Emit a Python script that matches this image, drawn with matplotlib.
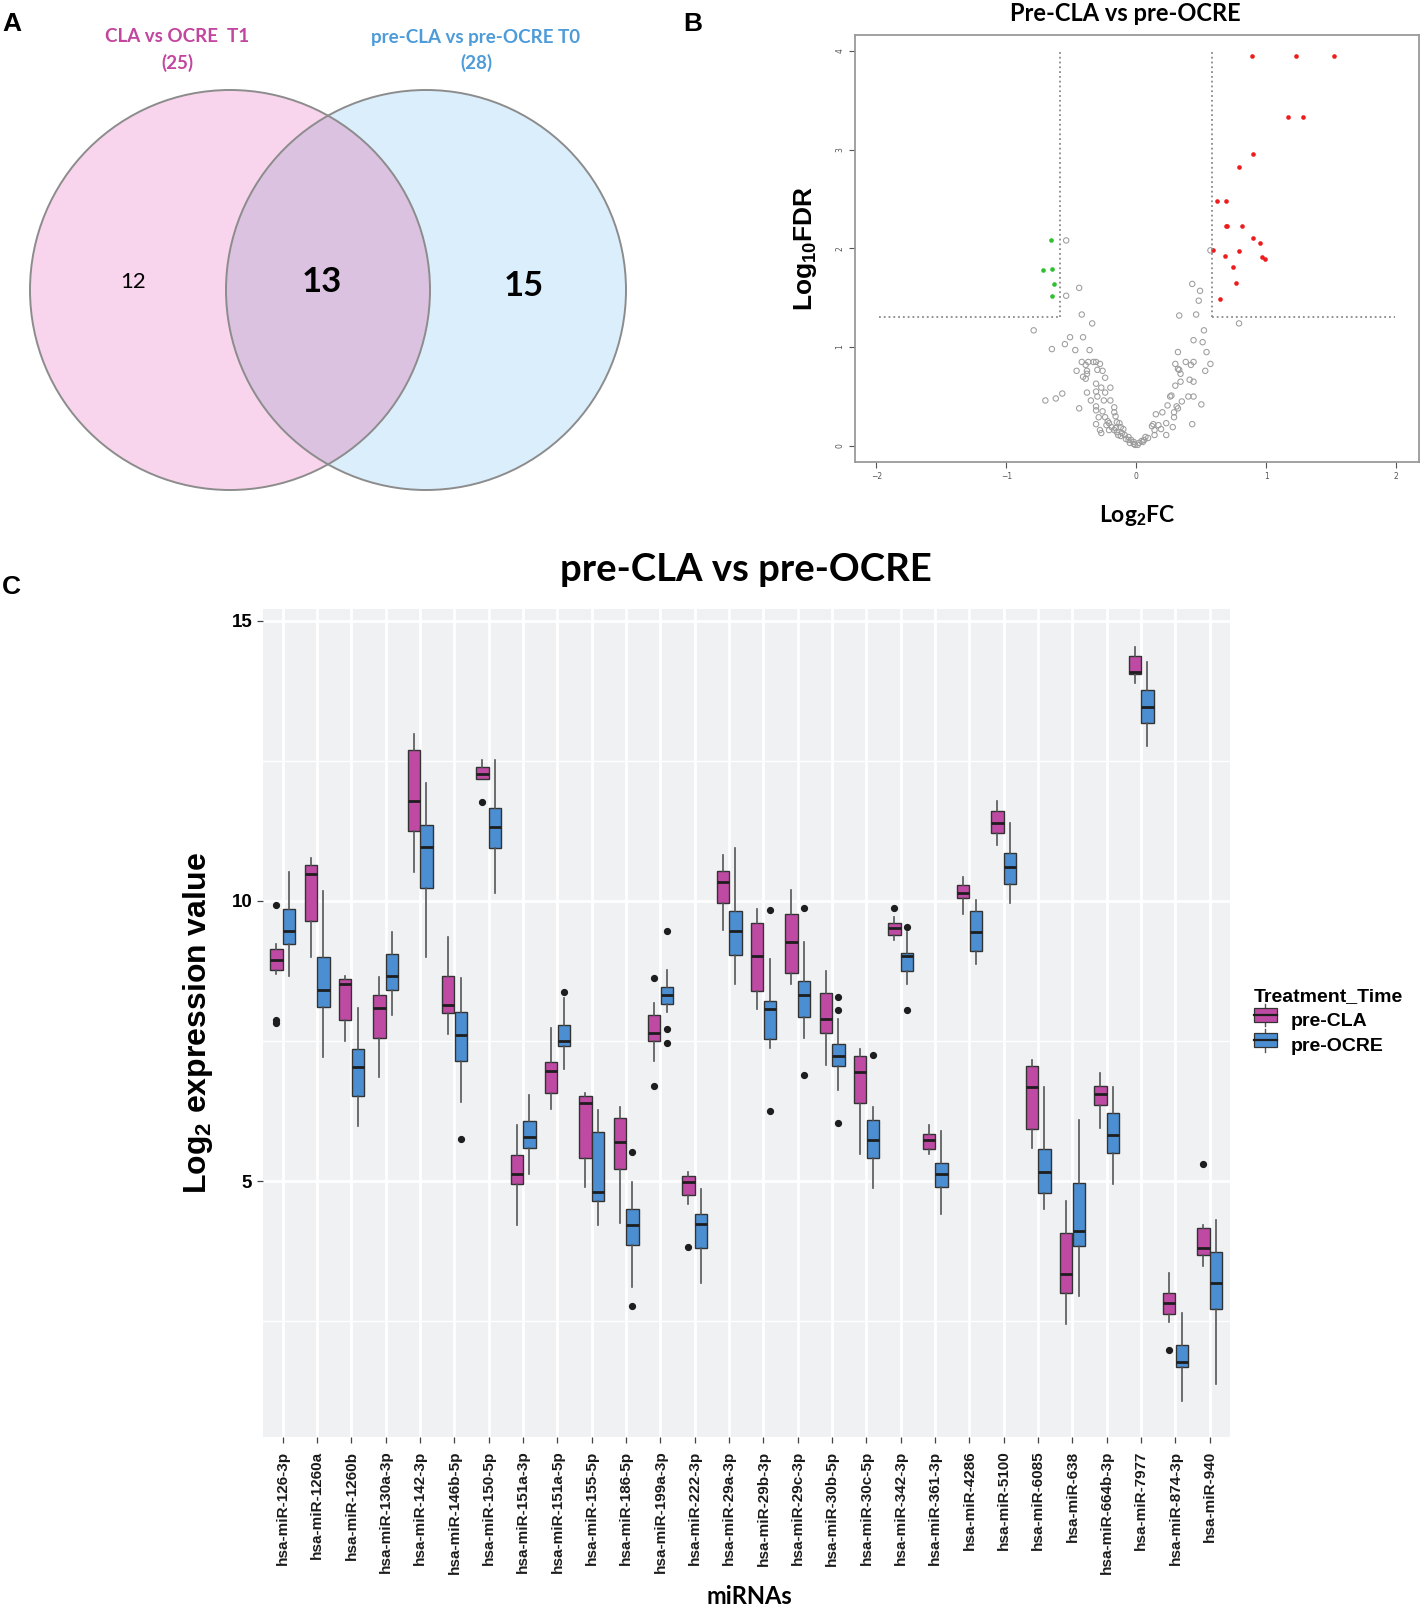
import matplotlib
matplotlib.use('Agg')
import matplotlib.pyplot as plt
from matplotlib.patches import Circle, Rectangle, Patch
from matplotlib.lines import Line2D
from matplotlib.legend_handler import HandlerBase

plt.rcParams['mathtext.fontset'] = 'custom'
plt.rcParams['mathtext.rm'] = 'Liberation Sans:bold'
plt.rcParams['mathtext.default'] = 'rm'

# ---------------- data ----------------
# Venn (panel A)
set_names = ['CLA vs OCRE  T1', 'pre-CLA vs pre-OCRE T0']
set_totals = [25, 28]
venn_counts = [12, 13, 15]   # only left, shared, only right

# volcano (panel B)
up_x = [0.89, 1.23, 1.52, 1.17, 1.28, 0.90, 0.79, 0.62, 0.69, 0.69, 0.70, 0.81,
        0.90, 0.95, 0.59, 0.68, 0.79, 0.97, 0.99, 0.74, 0.77, 0.64]
up_y = [3.95, 3.95, 3.95, 3.33, 3.33, 2.96, 2.82, 2.48, 2.48, 2.23, 2.23, 2.23,
        2.10, 2.05, 1.98, 1.92, 1.97, 1.91, 1.89, 1.81, 1.65, 1.49]
down_x = [-0.66, -0.72, -0.65, -0.63, -0.65]
down_y = [2.08, 1.78, 1.79, 1.64, 1.52]
ns_x = [-0.54, 0.57, -0.44, -0.54, 0.43, 0.49, 0.48, 0.46, 0.33, -0.42, -0.34, 0.79,
        -0.79, 0.52, -0.51, -0.41, 0.44, 0.51, -0.55, -0.65, -0.47, -0.36, 0.32, -0.42,
        -0.37, -0.33, -0.31, -0.28, -0.39, 0.30, 0.38, 0.44, 0.42, 0.57, 0.32, -0.46,
        -0.38, -0.30, -0.26, 0.33, 0.34, 0.53, -0.38, -0.41, -0.24, -0.39, 0.44, -0.31,
        -0.27, -0.20, 0.30, -0.31, -0.38, -0.24, -0.30, 0.26, 0.40, 0.44, -0.57, -0.62,
        -0.70, -0.35, -0.25, -0.20, 0.35, 0.50, -0.44, -0.31, -0.17, 0.24, 0.31, 0.20,
        0.32, -0.26, -0.17, 0.15, 0.29, -0.29, -0.24, -0.16, 0.29, -0.22, -0.31, -0.21,
        -0.15, -0.13, 0.13, 0.17, 0.23, 0.28, 0.43, -0.19, -0.16, -0.12, -0.10, -0.28,
        -0.27, -0.21, -0.15, -0.11, -0.09, -0.06, -0.04, -0.02, -0.01, 0.01, 0.02, 0.04,
        0.06, 0.09, 0.14, 0.12, 0.19, 0.23, 0.14, -0.06, -0.08, -0.12, -0.14, -0.05,
        -0.02, 0.05, 0.07, 0.41, 0.54, 0.34, 0.27, -0.31, -0.23, -0.17]
ns_y = [2.08, 1.98, 1.60, 1.52, 1.64, 1.57, 1.47, 1.33, 1.32, 1.33, 1.24, 1.24,
        1.17, 1.17, 1.10, 1.10, 1.07, 1.05, 1.03, 0.98, 0.97, 0.97, 0.95, 0.85,
        0.85, 0.85, 0.85, 0.83, 0.82, 0.83, 0.85, 0.85, 0.82, 0.83, 0.78, 0.76,
        0.76, 0.77, 0.76, 0.77, 0.73, 0.76, 0.73, 0.70, 0.69, 0.68, 0.65, 0.63,
        0.59, 0.59, 0.61, 0.55, 0.54, 0.54, 0.50, 0.50, 0.50, 0.50, 0.53, 0.48,
        0.46, 0.46, 0.46, 0.46, 0.45, 0.42, 0.38, 0.40, 0.39, 0.41, 0.40, 0.34,
        0.38, 0.35, 0.34, 0.32, 0.34, 0.29, 0.29, 0.30, 0.29, 0.25, 0.22, 0.23,
        0.24, 0.23, 0.22, 0.21, 0.23, 0.19, 0.22, 0.19, 0.18, 0.19, 0.17, 0.16,
        0.13, 0.16, 0.14, 0.13, 0.11, 0.09, 0.06, 0.04, 0.01, 0.01, 0.03, 0.05,
        0.06, 0.08, 0.11, 0.20, 0.17, 0.11, 0.16, 0.06, 0.07, 0.10, 0.11, 0.03,
        0.02, 0.04, 0.09, 0.67, 0.95, 0.65, 0.51, 0.36, 0.21, 0.16]
fc_cut = 0.585
fdr_cut = 1.3

# boxplots (panel C)
mirnas = ['hsa-miR-126-3p', 'hsa-miR-1260a', 'hsa-miR-1260b', 'hsa-miR-130a-3p',
          'hsa-miR-142-3p', 'hsa-miR-146b-5p', 'hsa-miR-150-5p', 'hsa-miR-151a-3p',
          'hsa-miR-151a-5p', 'hsa-miR-155-5p', 'hsa-miR-186-5p', 'hsa-miR-199a-3p',
          'hsa-miR-222-3p', 'hsa-miR-29a-3p', 'hsa-miR-29b-3p', 'hsa-miR-29c-3p',
          'hsa-miR-30b-5p', 'hsa-miR-30c-5p', 'hsa-miR-342-3p', 'hsa-miR-361-3p',
          'hsa-miR-4286', 'hsa-miR-5100', 'hsa-miR-6085', 'hsa-miR-638',
          'hsa-miR-664b-3p', 'hsa-miR-7977', 'hsa-miR-874-3p', 'hsa-miR-940']

cla_lo = [8.70, 9.00, 7.51, 6.86, 10.51, 7.62, 12.17, 4.22, 6.29, 4.89, 4.25, 7.15, 4.60, 9.49,
          8.07, 8.51, 7.07, 5.48, 9.30, 5.49, 9.76, 10.99, 5.59, 2.45, 5.95, 13.89, 2.49, 3.49]
cla_q1 = [8.76, 9.64, 7.88, 7.56, 11.25, 8.00, 12.17, 4.95, 6.57, 5.41, 5.21, 7.50, 4.75, 9.97,
          8.39, 8.72, 7.65, 6.40, 9.39, 5.57, 10.05, 11.21, 5.93, 3.00, 6.36, 14.05, 2.63, 3.68]
cla_med = [8.94, 10.49, 8.52, 8.09, 11.79, 8.15, 12.26, 5.12, 6.97, 6.39, 5.70, 7.65, 4.98, 10.33,
           9.01, 9.27, 7.89, 6.95, 9.51, 5.74, 10.15, 11.40, 6.68, 3.35, 6.56, 14.09, 2.83, 3.80]
cla_q3 = [9.15, 10.64, 8.61, 8.33, 12.70, 8.66, 12.39, 5.47, 7.13, 6.52, 6.12, 7.96, 5.09, 10.54,
          9.61, 9.76, 8.35, 7.23, 9.60, 5.85, 10.28, 11.61, 7.06, 4.07, 6.70, 14.38, 3.01, 4.17]
cla_hi = [9.24, 10.76, 8.66, 8.64, 12.98, 9.36, 12.52, 6.01, 7.73, 6.57, 6.33, 8.18, 5.16, 10.82,
          9.85, 10.20, 8.75, 7.35, 9.71, 6.01, 10.43, 11.79, 7.16, 4.64, 6.93, 14.53, 3.37, 4.22]
cla_out = [[9.93, 7.87, 7.82], [], [], [], [], [], [11.77], [], [], [], [], [8.63, 6.70], [3.82], [],
           [], [], [], [], [9.87], [], [], [], [], [], [], [], [1.99], [5.31]]

ocre_lo = [8.66, 7.22, 5.98, 7.96, 9.00, 6.42, 10.15, 5.12, 7.00, 4.22, 3.12, 8.02, 3.18, 8.51,
           7.38, 7.56, 6.62, 4.88, 8.52, 4.42, 8.87, 9.97, 4.50, 2.95, 4.95, 12.77, 1.08, 1.38]
ocre_q1 = [9.24, 8.10, 6.52, 8.41, 10.24, 7.14, 10.95, 5.59, 7.41, 4.64, 3.86, 8.16, 3.80, 9.03,
           7.54, 7.93, 7.05, 5.42, 8.75, 4.90, 9.10, 10.30, 4.79, 3.84, 5.50, 13.18, 1.68, 2.71]
ocre_med = [9.47, 8.41, 7.03, 8.66, 10.97, 7.60, 11.32, 5.78, 7.51, 4.81, 4.21, 8.32, 4.24, 9.46,
            8.07, 8.33, 7.24, 5.73, 9.02, 5.12, 9.45, 10.60, 5.16, 4.11, 5.82, 13.47, 1.77, 3.19]
ocre_q3 = [9.85, 9.00, 7.36, 9.05, 11.35, 8.02, 11.65, 6.08, 7.79, 5.88, 4.51, 8.46, 4.42, 9.82,
           8.21, 8.57, 7.44, 6.09, 9.07, 5.32, 9.82, 10.85, 5.57, 4.97, 6.21, 13.77, 2.08, 3.74]
ocre_hi = [10.51, 10.18, 8.09, 9.45, 12.10, 8.63, 12.51, 6.53, 8.26, 6.27, 4.98, 8.76, 4.86, 10.95,
           8.96, 9.27, 7.90, 6.33, 9.45, 5.90, 10.02, 11.39, 6.68, 6.09, 6.68, 14.27, 2.65, 4.30]
ocre_out = [[], [], [], [], [], [5.76], [], [], [8.37], [], [5.52, 2.78], [9.46, 7.71, 7.46], [], [],
            [9.84, 6.26], [9.88, 6.90], [8.29, 8.05, 6.03], [7.26], [9.54, 8.05], [], [], [], [], [], [],
            [], [], []]

groups = ['pre-CLA', 'pre-OCRE']
group_colors = ['#bf4aa4', '#4b8fd2']

W, H = 1421, 1611
fig = plt.figure(figsize=(W / 100, H / 100), dpi=100)

sans_b = dict(family='Liberation Sans', fontweight='bold')
cal_b = dict(family='Lato', fontweight='bold')

# panel letters
fig.text(2 / W, 1 - 24 / H, 'A', fontsize=19, va='center', ha='left', **sans_b)
fig.text(683 / W, 1 - 24 / H, 'B', fontsize=19, va='center', ha='left', **sans_b)
fig.text(2 / W, 1 - 587 / H, 'C', fontsize=19, va='center', ha='left', **sans_b)

# ---------------- A: Venn ----------------
axv = fig.add_axes([0, 1 - 520 / H, 660 / W, 520 / H])
axv.set_xlim(0, 660)
axv.set_ylim(520, 0)
axv.axis('off')
left_c = Circle((230, 290), 200, facecolor='#f8d5ec', edgecolor='none')
right_c = Circle((426, 290), 200, facecolor='#dbeefc', edgecolor='none')
axv.add_patch(left_c)
axv.add_patch(right_c)
over = Circle((426, 290), 200, facecolor='#dbc2e1', edgecolor='none')
axv.add_patch(over)
over.set_clip_path(left_c)
for cx in (230, 426):
    axv.add_patch(Circle((cx, 290), 200, facecolor='none', edgecolor='#8c8c8c', linewidth=1.4))
venn_cols = ['#c2459f', '#4d9bd8']
for cx, name, tot, col in zip((177, 476), set_names, set_totals, venn_cols):
    axv.text(cx, 37, name, color=col, fontsize=13.5, ha='center', va='center', **cal_b)
    axv.text(cx, 63, '(%d)' % tot, color=col, fontsize=13.5, ha='center', va='center', **cal_b)
axv.text(133, 282, str(venn_counts[0]), fontsize=16, ha='center', va='center', family='Lato')
axv.text(322, 282, str(venn_counts[1]), fontsize=25, ha='center', va='center', **cal_b)
axv.text(524, 286, str(venn_counts[2]), fontsize=25, ha='center', va='center', **cal_b)

# ---------------- B: volcano ----------------
axb = fig.add_axes([855 / W, 1 - 461.7 / H, (1419 - 855) / W, (461.7 - 35) / H])
axb.set_xlim(-2.165, 2.175)
axb.set_ylim(-0.16, 4.16)
for s in axb.spines.values():
    s.set_color('#9a9a9a')
    s.set_linewidth(1.3)
axb.plot([-fc_cut, -fc_cut], [fdr_cut, 4.0], ls=':', color='#8a8a8a', lw=1.3)
axb.plot([fc_cut, fc_cut], [fdr_cut, 4.0], ls=':', color='#8a8a8a', lw=1.3)
axb.plot([-1.98, -fc_cut], [fdr_cut, fdr_cut], ls=':', color='#8a8a8a', lw=1.3)
axb.plot([fc_cut, 1.99], [fdr_cut, fdr_cut], ls=':', color='#8a8a8a', lw=1.3)
axb.scatter(ns_x, ns_y, s=15, facecolors='none', edgecolors='#9c9c9c', linewidths=0.75)
axb.scatter(up_x, up_y, s=11, color='#ee1c1c', linewidths=0)
axb.scatter(down_x, down_y, s=11, color='#2fc02f', linewidths=0)
axb.set_xticks([-2, -1, 0, 1, 2])
axb.set_yticks([0, 1, 2, 3, 4])
axb.tick_params(labelsize=5.5, colors='#555555', length=4, width=0.8)
for lab in axb.get_yticklabels():
    lab.set_rotation(90)
    lab.set_va('center')
axb.set_title('Pre-CLA vs pre-OCRE', fontsize=17, pad=10, x=0.48, **cal_b)
axb.set_xlabel('Log$_2$FC', fontsize=16.5, labelpad=16, **cal_b)
axb.set_ylabel('Log$_{10}$FDR', fontsize=19, labelpad=12, **sans_b)

# ---------------- C: boxplots ----------------
axc = fig.add_axes([262.7 / W, 1 - 1436.7 / H, (1230 - 262.7) / W, (1436.7 - 609) / H])
axc.set_facecolor('#f0f1f3')
axc.set_xlim(-0.583, 27.59)
axc.set_ylim(0.44, 15.21)
axc.set_axisbelow(True)
axc.set_yticks([5, 10, 15])
axc.set_yticks([2.5, 7.5, 12.5], minor=True)
axc.set_xticks(range(len(mirnas)))
axc.grid(which='major', color='white', linewidth=2.0)
axc.grid(which='minor', axis='y', color='white', linewidth=1.0)
for s in axc.spines.values():
    s.set_visible(False)
axc.tick_params(which='minor', length=0)
axc.tick_params(which='major', length=4, color='#444444', width=0.9)
axc.tick_params(axis='x', pad=6)
axc.set_yticklabels(['5', '10', '15'], fontsize=13.5, **sans_b)
axc.set_xticklabels(mirnas, rotation=90, fontsize=11, color='#1a1a1a', **sans_b)


def stats_of(lo, q1, med, q3, hi, out):
    return [dict(whislo=a, q1=b, med=c, q3=d, whishi=e, fliers=f)
            for a, b, c, d, e, f in zip(lo, q1, med, q3, hi, out)]


all_stats = [stats_of(cla_lo, cla_q1, cla_med, cla_q3, cla_hi, cla_out),
             stats_of(ocre_lo, ocre_q1, ocre_med, ocre_q3, ocre_hi, ocre_out)]
for k, (st, col) in enumerate(zip(all_stats, group_colors)):
    off = -0.185 if k == 0 else 0.185
    axc.bxp(st, positions=[i + off for i in range(len(mirnas))], widths=0.36,
            patch_artist=True, showcaps=False, manage_ticks=False,
            boxprops=dict(facecolor=col, edgecolor='#333333', linewidth=1.0),
            medianprops=dict(color='#1e1e1e', linewidth=2.0),
            whiskerprops=dict(color='#555555', linewidth=1.2),
            flierprops=dict(marker='o', markerfacecolor='#1e1e1e', markeredgecolor='#1e1e1e',
                            markersize=4.2))

axc.set_title('pre-CLA vs pre-OCRE', fontsize=27.5, pad=20, **cal_b)
fig.text(749 / W, 1 - 1596 / H, 'miRNAs', fontsize=17, ha='center', va='center', **cal_b)
axc.set_ylabel('Log$_2$ expression value', fontsize=23, labelpad=12, **sans_b)


class BoxKey(HandlerBase):
    def create_artists(self, legend, orig, xd, yd, w, h, fontsize, trans):
        fc = orig.get_facecolor()
        xm = xd + w / 2
        wh = Line2D([xm, xm], [yd - 0.15 * h, yd + 1.15 * h], color='#555555', lw=1.0, transform=trans)
        box = Rectangle((xd, yd + 0.1 * h), w, 0.8 * h, facecolor=fc, edgecolor='#333333',
                        lw=0.9, transform=trans)
        med = Line2D([xd, xd + w], [yd + 0.5 * h] * 2, color='#1e1e1e', lw=1.6, transform=trans)
        return [wh, box, med]


handles = [Patch(facecolor=c, label=g) for g, c in zip(groups, group_colors)]
leg = fig.legend(handles=handles, loc='upper left', bbox_to_anchor=(1244 / W, 1 - 978 / H),
                 frameon=False, title='Treatment_Time', alignment='left', borderpad=0,
                 handler_map={Patch: BoxKey()}, handlelength=1.2, handleheight=1.0,
                 handletextpad=0.7, labelspacing=0.3,
                 prop=dict(family='Liberation Sans', weight='bold', size=14),
                 title_fontproperties=dict(family='Liberation Sans', weight='bold', size=14))

fig.savefig('out.png', dpi=100)
